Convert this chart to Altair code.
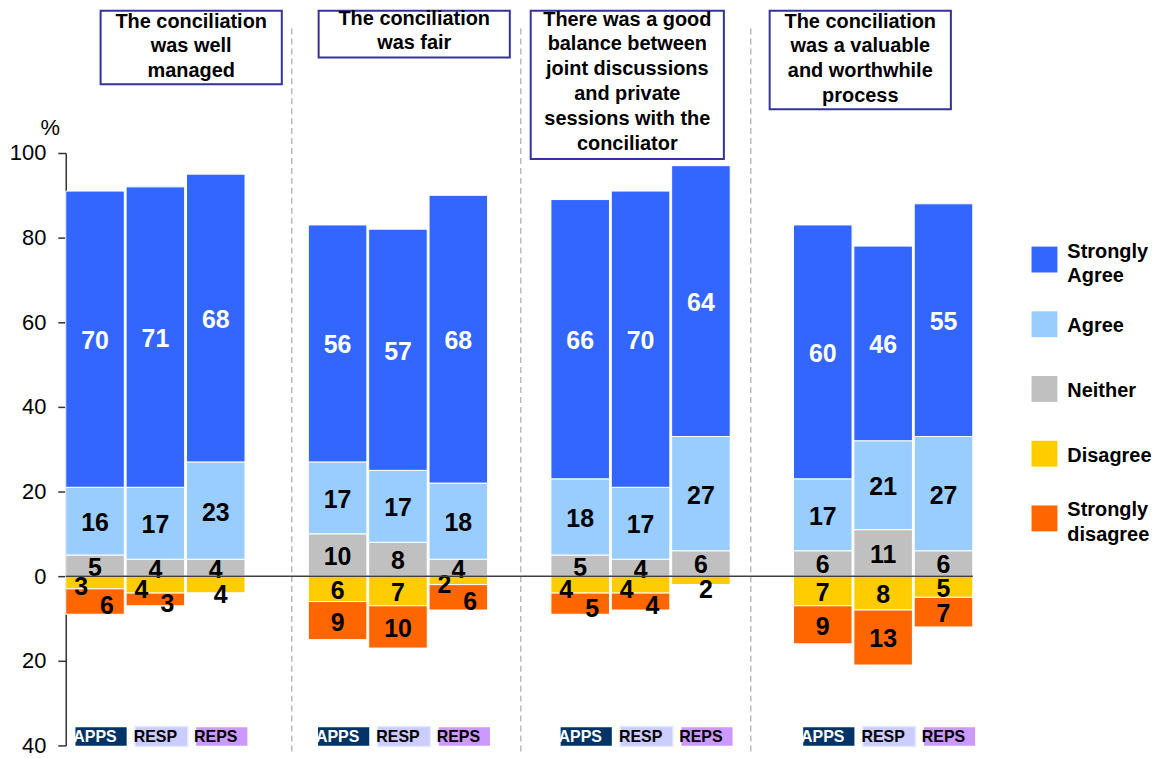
import altair as alt
import pandas as pd

FONT = "Liberation Sans"

QUESTIONS = ["Q1", "Q2", "Q3", "Q4"]
TITLES = [
    ["The conciliation", "was well", "managed"],
    ["The conciliation", "was fair"],
    ["There was a good", "balance between", "joint discussions", "and private",
     "sessions with the", "conciliator"],
    ["The conciliation", "was a valuable", "and worthwhile", "process"],
]
GROUPS = ["APPS", "RESP", "REPS"]
CATEGORIES = ["Strongly Agree", "Agree", "Neither", "Disagree", "Strongly disagree"]
LEGEND_LABELS = [["Strongly", "Agree"], ["Agree"], ["Neither"], ["Disagree"], ["Strongly", "disagree"]]

# values per question (rows) and group APPS, RESP, REPS (columns)
STRONGLY_AGREE = [[70, 71, 68], [56, 57, 68], [66, 70, 64], [60, 46, 55]]
AGREE = [[16, 17, 23], [17, 17, 18], [18, 17, 27], [17, 21, 27]]
NEITHER = [[5, 4, 4], [10, 8, 4], [5, 4, 6], [6, 11, 6]]
DISAGREE = [[3, 4, 4], [6, 7, 2], [4, 4, 2], [7, 8, 5]]
STRONGLY_DISAGREE = [[6, 3, 0], [9, 10, 6], [5, 4, 0], [9, 13, 7]]

COLORS = ["#3366FF", "#99CCFF", "#C0C0C0", "#FFCC00", "#FF6600"]
GROUP_FILL = ["#003366", "#CCCCFF", "#CC99FF"]

# ---- build stacked table from the arrays ----
rows = []
for qi, q in enumerate(QUESTIONS):
    for gi, g in enumerate(GROUPS):
        n, a, sa = NEITHER[qi][gi], AGREE[qi][gi], STRONGLY_AGREE[qi][gi]
        d, sd = DISAGREE[qi][gi], STRONGLY_DISAGREE[qi][gi]
        segs = [
            ("Neither", n, 0, n),
            ("Agree", a, n, n + a),
            ("Strongly Agree", sa, n + a, n + a + sa),
            ("Disagree", d, 0, -d),
            ("Strongly disagree", sd, -d, -(d + sd)),
        ]
        for cat, v, y0, y1 in segs:
            rows.append(dict(question=q, group=g, category=cat, value=v,
                             y0=y0, y1=y1, mid=(y0 + y1) / 2, dval=d, sdval=sd))
df = pd.DataFrame(rows)

W, H = 911, 595
one = pd.DataFrame({"_": [0]})

x_enc = alt.X("question:N", sort=QUESTIONS, axis=None,
              scale=alt.Scale(paddingInner=0.261, paddingOuter=0))
xo_enc = alt.XOffset("group:N", sort=GROUPS,
                     scale=alt.Scale(paddingInner=0.03, paddingOuter=0))
y_scale = alt.Scale(domain=[-40, 100], nice=False, zero=False)

bars = alt.Chart(df).mark_bar(stroke="white", strokeWidth=1).encode(
    x=x_enc, xOffset=xo_enc,
    y=alt.Y("y0:Q", scale=y_scale, axis=alt.Axis(
        values=[-40, -20, 0, 20, 40, 60, 80, 100], labelExpr="abs(datum.value)",
        title="%", titleAngle=0, titleX=-16, titleY=-19, titleAlign="center",
        titleBaseline="alphabetic", titleFontSize=22, titleFontWeight="normal",
        titleFont=FONT, titleColor="black", labelFont=FONT, labelFontSize=22,
        labelColor="black", labelPadding=12, tickSize=8, tickWidth=1.5,
        domainWidth=1.5, domainColor="#333333", tickColor="#333333", grid=False)),
    y2="y1:Q",
    color=alt.Color("category:N", scale=alt.Scale(domain=CATEGORIES, range=COLORS), legend=None),
)

label_color = alt.condition("datum.category == 'Strongly Agree'", alt.value("white"), alt.value("black"))

def labels(filt, dx=0, dy=0):
    return alt.Chart(df).transform_filter(filt).mark_text(
        font=FONT, fontSize=25, fontWeight="bold", baseline="middle", dx=dx, dy=dy
    ).encode(x=x_enc, xOffset=xo_enc, y=alt.Y("mid:Q", scale=y_scale),
             text="value:Q", color=label_color)

small_d_pair = "datum.category == 'Disagree' && datum.value <= 4 && datum.sdval > 0"
small_sd_pair = "datum.category == 'Strongly disagree' && datum.dval <= 4"
small_d_alone = "datum.category == 'Disagree' && datum.value <= 4 && datum.sdval == 0"
lab_main = labels(f"datum.value > 0 && !({small_d_pair}) && !({small_sd_pair}) && !({small_d_alone})", dy=2)
lab_left = labels(f"datum.value > 0 && {small_d_pair}", dx=-14, dy=5)
lab_right = labels(f"datum.value > 0 && {small_sd_pair}", dx=12, dy=5)
lab_alone = labels(f"datum.value > 0 && {small_d_alone}", dx=5, dy=10)

zero = alt.Chart(one).mark_rule(color="#404040", strokeWidth=1.5).encode(
    y=alt.Y(datum=0, scale=y_scale), x=alt.value(0), x2=alt.value(W))

# separators
seps = [alt.Chart(one).mark_rule(color="#BBBBBB", strokeWidth=1.5, strokeDash=[6, 4]).encode(
    x=alt.value(sx), y=alt.value(-125), y2=alt.value(605)) for sx in [227, 457, 688]]

# bottom group tags
tag_df = df[df.category == "Neither"]
tags = alt.Chart(tag_df).mark_bar(width=alt.RelativeBandSize(0.9), strokeWidth=1.5).encode(
    x=x_enc, xOffset=xo_enc, y=alt.value(576), y2=alt.value(596),
    fill=alt.Fill("group:N", scale=alt.Scale(domain=GROUPS, range=GROUP_FILL), legend=None),
    stroke=alt.condition("datum.group == 'RESP'", alt.value("#E4EAFF"), alt.value("white")),
)
tag_text = alt.Chart(tag_df).mark_text(font=FONT, fontSize=16, fontWeight="bold", baseline="middle").encode(
    x=x_enc, xOffset=xo_enc, y=alt.value(587), text="group:N",
    color=alt.condition("datum.group == 'APPS'", alt.value("white"), alt.value("black")),
)

# title boxes: (x0, x1, y0, y1, text centre x, first line centre y)
BOXES = [(35, 217, -143, -69, 126, -132), (254, 446, -143, -96, 350, -135),
         (467, 661, -143, 6, 564, -134), (707, 889, -143, -44, 798, -132)]
title_layers = []
for (x0, x1, y0, y1, cx, cy), t in zip(BOXES, TITLES):
    title_layers.append(alt.Chart(one).mark_rect(fill="white", stroke="#333399", strokeWidth=2).encode(
        x=alt.value(x0), x2=alt.value(x1), y=alt.value(y0), y2=alt.value(y1)))
    title_layers.append(alt.Chart(one).mark_text(
        text=t, font=FONT, fontSize=20, fontWeight="bold", lineHeight=25,
        align="center", baseline="middle", color="black").encode(x=alt.value(cx), y=alt.value(cy)))

# legend
legend_layers = []
for i, (c, lab) in enumerate(zip(COLORS, LEGEND_LABELS)):
    ly = 107 + i * 65
    legend_layers.append(alt.Chart(one).mark_square(size=676, color=c, opacity=1).encode(
        x=alt.value(983), y=alt.value(ly)))
    legend_layers.append(alt.Chart(one).mark_text(
        text=lab, font=FONT, fontSize=20, fontWeight="bold", lineHeight=25,
        align="left", baseline="middle", color="black").encode(
        x=alt.value(1006), y=alt.value(ly - 10 * (len(lab) - 1) + 2)))

chart = alt.layer(
    *seps, bars, lab_main, lab_left, lab_right, lab_alone, zero, tags, tag_text,
    *title_layers, *legend_layers
).resolve_scale(color="independent").properties(
    width=W, height=H,
    background="white",
    autosize=alt.AutoSizeParams(type="none"),
    padding={"left": 58, "top": 144, "right": 180, "bottom": 12},
).configure_view(strokeWidth=0, stroke="transparent")

chart.save("out.html", embed_options={"renderer": "svg", "actions": False})
